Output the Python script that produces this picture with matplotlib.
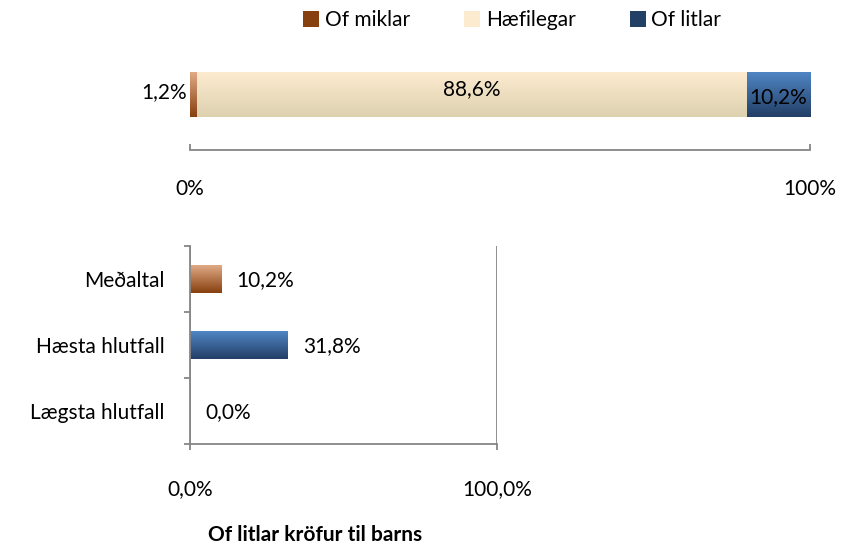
import matplotlib
matplotlib.use("Agg")
from matplotlib import pyplot as plt
from matplotlib.colors import LinearSegmentedColormap
from matplotlib.patches import Patch
import numpy as np

plt.rcParams['font.family'] = ['Lato', 'DejaVu Sans']
plt.rcParams['font.size'] = 15

# top stacked bar
stack_names = ['Of miklar', 'Hæfilegar', 'Of litlar']
stack_values = [1.2, 88.6, 10.2]

# bottom comparison bars
cats = ['Meðaltal', 'Hæsta hlutfall', 'Lægsta hlutfall']
cat_values = [10.2, 31.8, 0.0]

title = 'Of litlar kröfur til barns'

# (top colour, bottom colour) for the gradients
orange = ('#e0aa85', '#87400f')
beige = ('#fdebd0', '#ddd1b0')
blue = ('#5085c4', '#223f66')
stack_colors = [orange, beige, blue]
cat_colors = [orange, blue, blue]
spine_col = '#868686'


def shade(ax, bar, cols):
    cmap = LinearSegmentedColormap.from_list('g', [cols[0], cols[1]])
    x0, y0 = bar.get_x(), bar.get_y()
    w, h = bar.get_width(), bar.get_height()
    if w <= 0:
        return
    grad = np.linspace(0, 1, 64).reshape(-1, 1)
    ytop, ybot = (y0, y0 + h) if ax.yaxis_inverted() else (y0 + h, y0)
    im = ax.imshow(grad, cmap=cmap, aspect='auto',
                   extent=(x0, x0 + w, ybot, ytop), origin='upper',
                   zorder=2, interpolation='bilinear')
    im.set_clip_path(bar)
    bar.set_facecolor('none')


fig = plt.figure(figsize=(8.5, 5.51), dpi=100)

# ---- top chart
ax1 = fig.add_axes([190 / 850, 1 - 150 / 551, 620 / 850, 100 / 551])
left = 0
for v, c in zip(stack_values, stack_colors):
    ax1.barh(0, v, left=left, height=0.9, color=c[0], edgecolor='none')
    left += v
ax1.set_xlim(0, 100)
ax1.set_ylim(-1.11, 0.89)
for b, c in zip(ax1.patches, stack_colors):
    shade(ax1, b, c)

bars = ax1.patches
ax1.text(bars[0].get_x() - 0.5, 0.05, '1,2%', ha='right', va='center')
ax1.text(bars[1].get_x() + bars[1].get_width() / 2, 0.1, '88,6%', ha='center', va='center')
ax1.text(bars[2].get_x() + bars[2].get_width() / 2, -0.05, '10,2%', ha='center', va='center')

for s in ['top', 'left', 'right']:
    ax1.spines[s].set_visible(False)
ax1.spines['bottom'].set_color(spine_col)
ax1.spines['bottom'].set_linewidth(1.3)
ax1.set_yticks([])
ax1.set_xticks([0, 100])
ax1.set_xticklabels(['0%', '100%'])
ax1.tick_params(axis='x', direction='in', length=4, width=1.3, color=spine_col, pad=21)

# ---- bottom chart
ax2 = fig.add_axes([190 / 850, 1 - 444 / 551, 307 / 850, 198 / 551])
y = np.arange(len(cats))
ax2.barh(y, [v / 100 for v in cat_values], height=0.41, color=[c[0] for c in cat_colors], edgecolor='none')
ax2.set_xlim(0, 1)
ax2.set_ylim(2.5, -0.5)
for b, c in zip(ax2.patches, cat_colors):
    shade(ax2, b, c)
for yi, v, b in zip(y, cat_values, ax2.patches):
    ax2.text(b.get_width() + 0.05, yi + 0.02, f'{v:.1f}%'.replace('.', ','), ha='left', va='center')

for s in ['top', 'right']:
    ax2.spines[s].set_visible(False)
for s in ['left', 'bottom']:
    ax2.spines[s].set_color(spine_col)
    ax2.spines[s].set_linewidth(1.3)
ax2.set_yticks([-0.5, 0.5, 1.5, 2.5])
ax2.set_yticklabels([])
ax2.set_yticks(y, minor=True)
ax2.set_yticklabels(cats, minor=True)
ax2.tick_params(axis='y', which='major', length=4, width=1.3, color=spine_col)
ax2.tick_params(axis='y', which='minor', length=0, pad=18)
ax2.set_xticks([0, 1])
ax2.set_xticklabels(['0,0%', '100,0%'])
ax2.tick_params(axis='x', length=4, width=1.3, color=spine_col, pad=21)
ax2.xaxis.grid(True, color=spine_col, linewidth=1.3)
ax2.set_axisbelow(True)

fig.text(315 / 850, 1 - 535 / 551, title, ha='center', va='center', fontweight='bold')

# legend
handles = [Patch(facecolor=c[1] if i != 1 else c[0], edgecolor='none') for i, c in enumerate(stack_colors)]
fig.legend(handles, stack_names, loc='center', bbox_to_anchor=(512 / 850, 1 - 20 / 551),
           ncol=3, frameon=False, handlelength=0.8, handleheight=0.8,
           handletextpad=0.25, columnspacing=2.6)

fig.savefig('out.png', dpi=100)
